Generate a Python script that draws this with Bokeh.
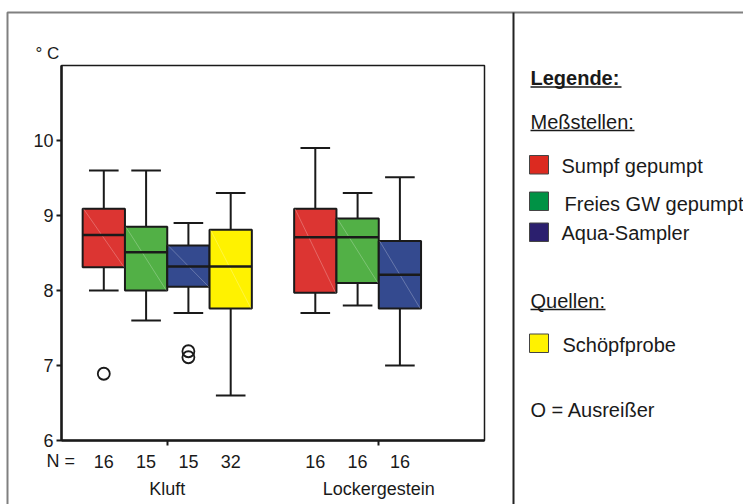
from bokeh.plotting import figure
from bokeh.models import Range1d, LinearAxis, FixedTicker
from bokeh.core.properties import value
from bokeh.embed import file_html
from bokeh.resources import INLINE

# ---------------- data ----------------
groups = ["Kluft", "Lockergestein"]
series = ["Sumpf gepumpt", "Freies GW gepumpt", "Aqua-Sampler", "Schöpfprobe"]

# one entry per box (group index, series index)
box_group = [0, 0, 0, 0, 1, 1, 1]
box_series = [0, 1, 2, 3, 0, 1, 2]
n_values = [16, 15, 15, 32, 16, 16, 16]
whisker_low = [8.0, 7.6, 7.7, 6.6, 7.7, 7.8, 7.0]
q1 = [8.31, 8.0, 8.05, 7.76, 7.97, 8.1, 7.76]
median = [8.74, 8.51, 8.32, 8.32, 8.71, 8.71, 8.21]
q3 = [9.09, 8.85, 8.6, 8.81, 9.09, 8.96, 8.66]
whisker_high = [9.6, 9.6, 8.9, 9.3, 9.9, 9.3, 9.51]

# outliers: index of the box they belong to, value
outlier_box = [0, 2, 2]
outlier_values = [6.89, 7.19, 7.11]

y_ticks = [6, 7, 8, 9, 10]

# ---------------- style ----------------
box_colors = ["#DC3532", "#52B046", "#344A8F", "#FFF200"]
legend_colors = ["#DC2A20", "#009245", "#2B1F6E", "#FFF200"]
ink = "#1a1a1a"
FONT = "Liberation Sans"

slots = 5  # 4 slots per group plus a gap
box_x = [g * slots + s + 1 for g, s in zip(box_group, box_series)]
group_x = [g * slots + 2.5 for g in range(len(groups))]
fills = [box_colors[s] for s in box_series]

W, H = 743, 504
# plot area (pixels) 61..484 x, 65..440 y ; data x 0..10, y 6..11
px_per_x = 423 / 10.0
px_per_y = 375 / 5.0
x_range = Range1d(-61 / px_per_x, (W - 61) / px_per_x)
y_range = Range1d(6 - (H - 440) / px_per_y, 6 + 440 / px_per_y)

p = figure(width=W, height=H, x_range=x_range, y_range=y_range,
           output_backend="svg", toolbar_location=None,
           x_axis_location=None, y_axis_location=None, min_border=0)
p.outline_line_color = None
p.grid.visible = False
p.background_fill_color = "white"
p.border_fill_color = "white"
p.extra_x_ranges = {"px": Range1d(0, W)}
p.extra_y_ranges = {"px": Range1d(H, 0)}

# outer frame and divider (layout decoration)
p.line(x=[7, 7, W], y=[H, 12, 12], x_range_name="px", y_range_name="px",
       line_color="#808080", line_width=2)
p.line(x=[513, 513], y=[12, H], x_range_name="px", y_range_name="px",
       line_color="#222222", line_width=2)

# plot box (top / right borders)
p.quad(left=[0], right=[10], bottom=[6], top=[11], fill_color=None,
       line_color=ink, line_width=1.5)

# whiskers
xs = box_x
p.segment(x0=xs, y0=q3, x1=xs, y1=whisker_high, line_color=ink, line_width=2)
p.segment(x0=xs, y0=q1, x1=xs, y1=whisker_low, line_color=ink, line_width=2)
cap = 0.35
p.segment(x0=[x - cap for x in xs], y0=whisker_high, x1=[x + cap for x in xs], y1=whisker_high,
          line_color=ink, line_width=2)
p.segment(x0=[x - cap for x in xs], y0=whisker_low, x1=[x + cap for x in xs], y1=whisker_low,
          line_color=ink, line_width=2)

# boxes
p.vbar(x=xs, width=1.0, bottom=q1, top=q3, fill_color=fills, line_color=ink, line_width=2)
# faint diagonal sheen
p.segment(x0=[x - 0.48 for x in xs], y0=q3, x1=[x + 0.48 for x in xs], y1=q1,
          line_color="white", line_alpha=0.25, line_width=1)
# medians
p.segment(x0=[x - 0.5 for x in xs], y0=median, x1=[x + 0.5 for x in xs], y1=median,
          line_color=ink, line_width=2.5)

# outliers
p.scatter(x=[box_x[i] for i in outlier_box], y=outlier_values, marker="circle", size=12,
          fill_color=None, line_color=ink, line_width=1.8)

# axes
yaxis = LinearAxis(fixed_location=0, bounds=(6, 11), ticker=FixedTicker(ticks=y_ticks))
yaxis.axis_line_width = 2.5
yaxis.axis_line_color = ink
yaxis.major_tick_line_color = ink
yaxis.major_tick_line_width = 2
yaxis.major_tick_out = 5
yaxis.major_tick_in = 0
yaxis.minor_tick_out = 0
yaxis.minor_tick_in = 0
yaxis.major_label_standoff = 3
yaxis.major_label_text_font = FONT
yaxis.major_label_text_font_size = "18px"
yaxis.major_label_text_color = ink
p.add_layout(yaxis, "left")

xaxis = LinearAxis(fixed_location=6, bounds=(0, 10), ticker=FixedTicker(ticks=group_x))
xaxis.major_label_overrides = {gx: g for gx, g in zip(group_x, groups)}
xaxis.axis_line_width = 2.5
xaxis.axis_line_color = ink
xaxis.major_tick_line_color = ink
xaxis.major_tick_line_width = 2
xaxis.major_tick_out = 5
xaxis.major_tick_in = 0
xaxis.minor_tick_out = 0
xaxis.minor_tick_in = 0
xaxis.major_label_standoff = 33
xaxis.major_label_text_font = FONT
xaxis.major_label_text_font_size = "18px"
xaxis.major_label_text_color = ink
p.add_layout(xaxis, "below")

def label(x, y, text, size, style="normal", align="left", xr="px"):
    p.text(x=x, y=y, text=text, x_range_name=xr, y_range_name="px",
           text_font=value(FONT), text_font_size=size, text_font_style=style,
           text_color=ink, text_baseline="middle", text_align=align)

# unit label
label([35], [53], ["° C"], "17px")

# N row
label([46], [460.5], ["N ="], "18px")
label(xs, [460.5] * len(xs), [str(n) for n in n_values], "18px", align="center", xr="default")

# ---------------- legend (layout in pixel space) ----------------
LX = 530
label([LX], [77], ["Legende:"], "20px", style="bold")
p.segment(x0=[LX], y0=[86.5], x1=[621], y1=[86.5], x_range_name="px", y_range_name="px",
          line_color=ink, line_width=1.5)

headings = ["Meßstellen:", "Quellen:"]
heading_y = [121.5, 300.5]
underline_y = [130, 309]
heading_w = [104, 75]
label([LX] * 2, heading_y, headings, "20px")
p.segment(x0=[LX] * 2, y0=underline_y, x1=[LX + w for w in heading_w], y1=underline_y,
          x_range_name="px", y_range_name="px", line_color=ink, line_width=1.5)

swatch_top = [155, 191.5, 222.5, 333.5]
text_mid = [165.5, 203, 232.5, 344]
text_x = [561, 564, 561, 562]
p.quad(left=[529] * 4, right=[548] * 4, top=swatch_top, bottom=[t + 18.5 for t in swatch_top],
       x_range_name="px", y_range_name="px", fill_color=legend_colors,
       line_color="#444444", line_width=1)
label(text_x, text_mid, series, "20px")
label([LX], [409.5], ["O = Ausreißer"], "20px")

open("out.html", "w").write(file_html(p, INLINE))
